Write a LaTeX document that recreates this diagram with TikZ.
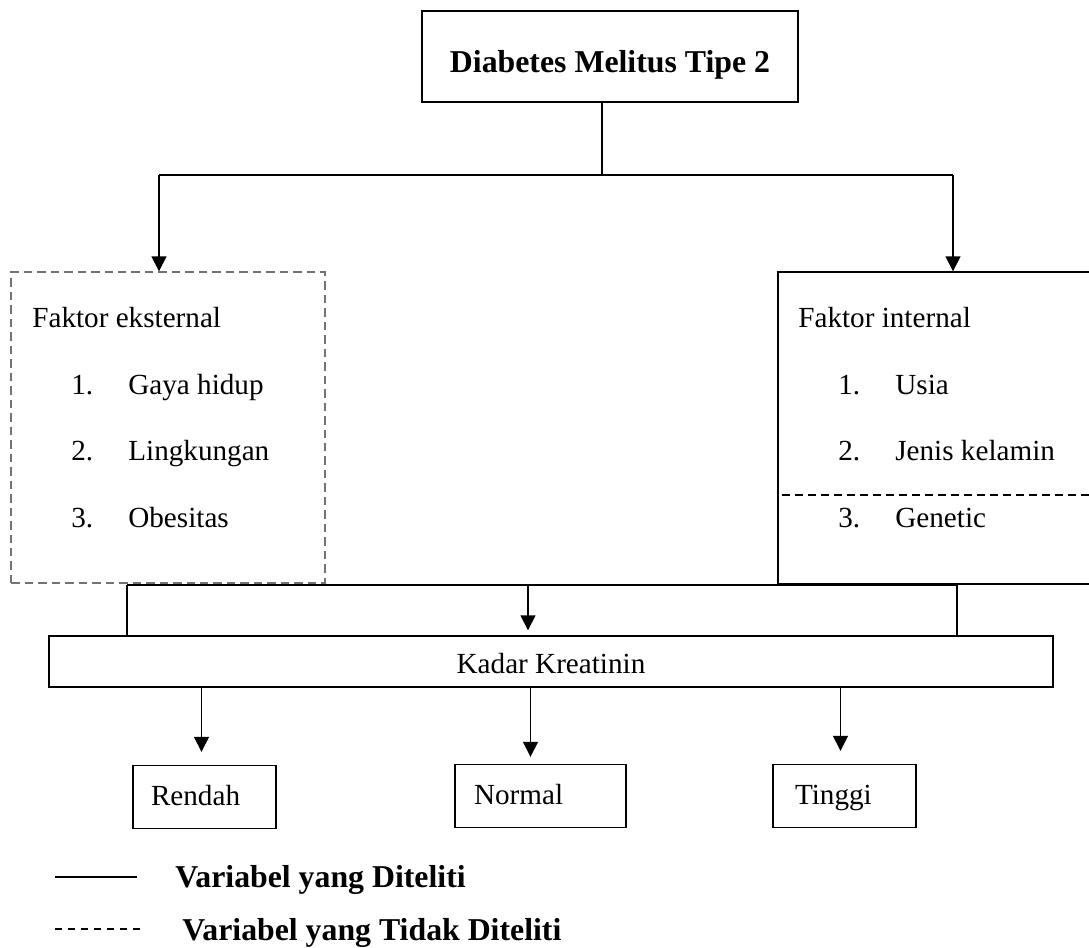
\documentclass[tikz,border=0pt]{standalone}
\usepackage{fontspec}
\setmainfont{Liberation Serif}
\usetikzlibrary{arrows.meta,positioning,calc}
\tikzset{
    every node/.append style={font=\fontsize{16.6}{20}\selectfont},
    box/.style={rectangle,draw=black,line width=0.8pt,inner sep=0pt},
    notbox/.style={rectangle,draw=black!55,line width=0.8pt,dash pattern=on 0.17cm off 0.1cm,inner sep=0pt},
    title/.style={box,font=\fontsize{18.1}{22}\selectfont\bfseries,text height=0.7cm,text depth=0.08cm},
    level/.style={box,align=left,inner ysep=0pt,minimum height=1.26cm,text height=0.4cm,text depth=0.08cm},
    txt/.style={anchor=base west,inner sep=0pt},
    keytxt/.style={anchor=base west,inner sep=0pt,font=\fontsize{18.1}{22}\selectfont\bfseries},
    line/.style={line width=0.8pt},
    arr/.style={-{Triangle[length=0.3cm,width=0.3cm]},line width=0.8pt},
    divider/.style={line width=0.8pt,dash pattern=on 0.16cm off 0.1cm},
    keydash/.style={line width=0.6pt,dash pattern=on 0.14cm off 0.12cm}
}

\begin{document}
\begin{tikzpicture}[x=0.02cm,y=-0.02cm]
    \useasboundingbox (0,0) rectangle (1089,947);
    % top
    \node[title,minimum width=7.52cm,minimum height=1.82cm] (dm) at (610,56.5) {Diabetes Melitus Tipe 2};
    % factors
    \node[notbox,minimum width=6.28cm,minimum height=6.22cm] (ekst) at (168,427.5) {};
    \node[box,minimum width=6.34cm,minimum height=6.24cm]    (intl) at (936.5,428) {};
    \node[txt] (ekstTitle) at (32,327)  {Faktor eksternal};
    \node[txt] (intlTitle) at (798,327) {Faktor internal};
    \foreach \n/\t/\y in {1/Gaya hidup/394, 2/Lingkungan/460, 3/Obesitas/527} {
        \node[txt] (ekstNum\n) at (71,\y)  {\n.};
        \node[txt] (ekst\n)    at (128,\y) {\t};
    }
    \foreach \n/\t/\y in {1/Usia/394, 2/Jenis kelamin/460, 3/Genetic/527} {
        \node[txt] (intlNum\n) at (838,\y) {\n.};
        \node[txt] (intl\n)    at (895,\y) {\t};
    }
    \draw[divider] (782,495) -- (intl.east |- 0,495);
    % result
    \node[box,minimum width=20.08cm,minimum height=1.02cm,text height=0.54cm,text depth=0.08cm] (kadar) at (551,661.5) {Kadar Kreatinin};
    \node[level,text width=2.14cm,inner xsep=0.36cm] (rendah) at (204.5,797) {Rendah};
    \node[level,text width=2.66cm,inner xsep=0.38cm] (normal) at (540.5,796) {Normal};
    \node[level,text width=1.98cm,inner xsep=0.44cm] (tinggi) at (844.5,796) {Tinggi};

    \coordinate (split)  at (602,175);
    \coordinate (splitL) at (159,175);
    \coordinate (splitR) at (953,175);
    \draw[line] (dm.south -| split) -- (split);
    \draw[line] (splitL) -- (splitR);
    \draw[arr]  (splitL) -- (splitL |- ekst.north);
    \draw[arr]  (splitR) -- (splitR |- intl.north);

    \coordinate (joinL) at (127,585);
    \coordinate (joinM) at (528,585);
    \coordinate (joinR) at (957,585);
    \draw[line] (joinL) -- (joinR);
    \draw[line] (joinL) -- (joinL |- kadar.north);
    \draw[line] (joinR) -- (joinR |- kadar.north);
    \draw[arr,shorten >=0.1cm] (joinM) -- (joinM |- kadar.north);

    \coordinate (toRendah) at ($(rendah.north)+(-3,0)$);
    \coordinate (toNormal) at ($(normal.north)+(-10,0)$);
    \coordinate (toTinggi) at ($(tinggi.north)+(-4,0)$);
    \draw[arr,shorten >=0.26cm] (kadar.south -| toRendah) -- (toRendah);
    \draw[arr,shorten >=0.14cm] (kadar.south -| toNormal) -- (toNormal);
    \draw[arr,shorten >=0.26cm] (kadar.south -| toTinggi) -- (toTinggi);

    % legend
    \coordinate (keySolidA) at (55,877);
    \coordinate (keySolidB) at (137,877);
    \coordinate (keyDashA)  at (55,929);
    \coordinate (keyDashB)  at (144,929);
    \draw[line]    (keySolidA) -- (keySolidB);
    \draw[keydash] (keyDashA) -- (keyDashB);
    \node[keytxt] (keySolid) at (175,887) {Variabel yang Diteliti};
    \node[keytxt] (keyDash)  at (182,940) {Variabel yang Tidak Diteliti};
\end{tikzpicture}
\end{document}
